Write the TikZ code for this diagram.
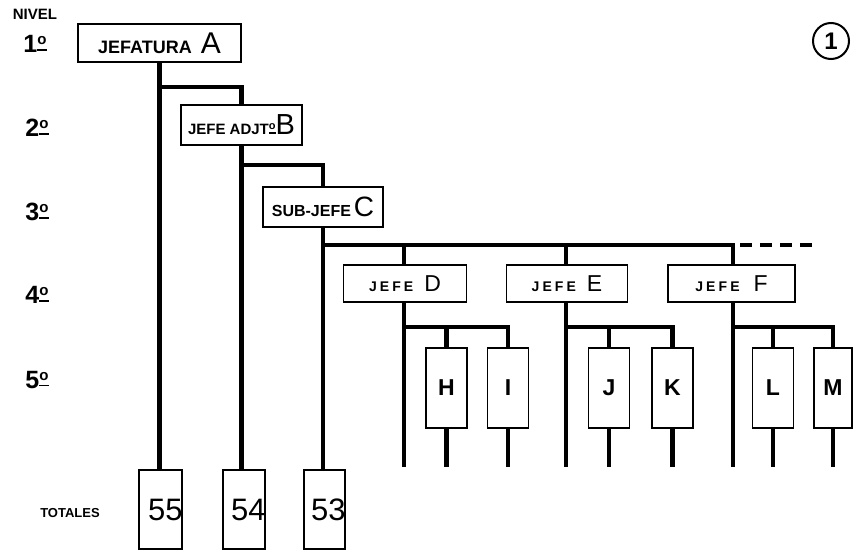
\documentclass[tikz,border=0pt]{standalone}
\usepackage{fontspec}
\setmainfont{Liberation Sans}
\newcommand{\capsm}[2][15]{{\fontsize{#1}{#1}\selectfont\bfseries #2}}
\newcommand{\capbig}[2][26]{{\fontsize{#1}{#1}\selectfont #2}}
\newcommand{\jefe}{{\fontsize{14}{14}\selectfont\bfseries\addfontfeature{LetterSpace=22}JEFE}}
% o volada subrayada (1º, ADJTº)
\newcommand{\ordo}[3]{\raisebox{#3}{\fontsize{#1}{#1}\selectfont\bfseries
  \setbox0\hbox{o}\vbox{\hbox{o}\kern#2\hrule height 1.8pt width \wd0}}}
\begin{document}
\begin{tikzpicture}[x=1pt,y=-1pt,
    conn/.style={line width=4.5pt},
    box/.style={draw, line width=1.8pt, inner sep=0pt, fill=white},
    lvl/.style={font=\fontsize{25}{25}\selectfont\bfseries},
    sub/.style={box, minimum width=41pt, minimum height=80pt,
                font=\fontsize{23}{23}\selectfont\bfseries},
    tot/.style={box, minimum width=42pt, minimum height=79pt}]
  \useasboundingbox (0,0) rectangle (855,552);

  % ─────────── niveles ───────────────────────────────────────────────
  \node[font=\fontsize{15}{15}\selectfont\bfseries] (nivel) at (35,14) {NIVEL};
  \node[lvl] (lv1) at (35,44)  {1\ordo{15}{4pt}{2pt}};
  \node[lvl] (lv2) at (37,128) {2\ordo{15}{4pt}{2pt}};
  \node[lvl] (lv3) at (37,212) {3\ordo{15}{4pt}{2pt}};
  \node[lvl] (lv4) at (37,295) {4\ordo{15}{4pt}{2pt}};
  \node[lvl] (lv5) at (37,380) {5\ordo{15}{4pt}{2pt}};
  \node[font=\fontsize{13}{13}\selectfont\bfseries] (totales) at (70,513) {TOTALES};

  % ─────────── jefaturas ─────────────────────────────────────────────
  \node[box, minimum width=163pt, minimum height=38pt] (A) at (159.5,43)
    {\capsm[18]{JEFATURA}\hspace{9pt}\capbig[30]{A}};
  \node[box, minimum width=121pt, minimum height=40pt] (B) at (241.5,125)
    {\capsm[15]{JEFE ADJT}\ordo{11}{2pt}{1pt}\capbig[29]{B}};
  \node[box, minimum width=120pt, minimum height=40pt] (C) at (323,207)
    {\capsm[16]{SUB-JEFE}\hspace{3pt}\capbig[28]{C}};
  \node[box, minimum width=123pt, minimum height=37pt] (D) at (405,283.5)
    {\jefe\hspace{11pt}\capbig[23]{D}};
  \node[box, minimum width=121pt, minimum height=37pt] (E) at (567,283.5)
    {\jefe\hspace{11pt}\capbig[23]{E}};
  \node[box, minimum width=127pt, minimum height=37pt] (F) at (731.5,283.5)
    {\jefe\hspace{14pt}\capbig[23]{F}};

  % ─────────── 5º nivel ──────────────────────────────────────────────
  \node[sub] (H) at (446.5,388) {H};
  \node[sub] (I) at (508,388)   {I};
  \node[sub] (J) at (609,388)   {J};
  \node[sub] (K) at (672.5,388) {K};
  \node[sub] (L) at (773,388)   {L};
  \node[sub, minimum width=38pt] (M) at (833,388) {M};

  % ─────────── totales ───────────────────────────────────────────────
  \node[tot, minimum width=43pt] (t55) at (160.5,509.5) {};
  \node[tot] (t54) at (244,509.5) {};
  \node[tot, minimum width=41pt] (t53) at (324.5,509.5) {};
  \node[anchor=east, inner sep=0pt, font=\fontsize{31}{31}\selectfont] at (t55.east) {55};
  \node[anchor=east, inner sep=0pt, font=\fontsize{31}{31}\selectfont] at (t54.east) {54};
  \node[anchor=east, inner sep=0pt, font=\fontsize{31}{31}\selectfont] at (t53.east) {53};

  % ─────────── conexiones ────────────────────────────────────────────
  \coordinate (jA) at (160,87);
  \coordinate (jB) at (242,165);
  \coordinate (jC) at (323,245);
  \coordinate (jD) at (404,327);
  \coordinate (jE) at (566,327);
  \coordinate (jF) at (733,327);
  \coordinate (fin) at (0,467);
  \coordinate (punta) at (812,245);

  \draw[conn] (A.south) -- (A.south |- t55.north);
  \draw[conn] (jA) -| (B.north);
  \draw[conn] (B.south) -- (B.south |- t54.north);
  \draw[conn] (jB) -| (C.north);
  \draw[conn] (C.south) -- (C.south |- t53.north);
  \draw[conn] (jC) -| (jD |- D.north);
  \draw[conn] (jC) -| (jE |- E.north);
  \draw[conn] (jC) -| (jF |- F.north);
  \draw[conn, dash pattern=on 12pt off 8pt] (740,245) -- (punta);

  \draw[conn] (D.south -| jD) -- (jD |- fin);
  \draw[conn] (jD) -| (I.north);
  \draw[conn] (H.north) -- (H.north |- jD);
  \draw[conn] (E.south -| jE) -- (jE |- fin);
  \draw[conn] (jE) -| (K.north);
  \draw[conn] (J.north) -- (J.north |- jE);
  \draw[conn] (F.south -| jF) -- (jF |- fin);
  \draw[conn] (jF) -| (M.north);
  \draw[conn] (L.north) -- (L.north |- jF);
  \foreach \n in {H,I,J,K,L,M}
    \draw[conn] (\n.south) -- (\n.south |- fin);

  % ─────────── número ────────────────────────────────────────────────
  \node[draw, circle, line width=2pt, minimum size=36pt, inner sep=0pt,
        font=\fontsize{24}{24}\selectfont\bfseries] (num) at (831,41) {1};
\end{tikzpicture}
\end{document}
